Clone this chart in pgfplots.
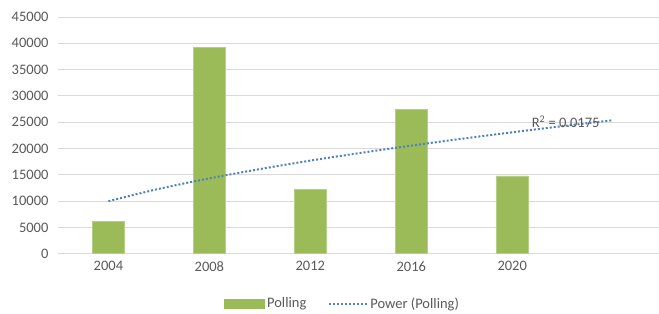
\documentclass[border=0pt]{standalone}
\usepackage{fontspec}
\setmainfont{Carlito}
\usepackage{pgfplots}
\pgfplotsset{compat=1.18}
\definecolor{barg}{HTML}{9BBB59}
\definecolor{bargl}{HTML}{B5CF84}
\definecolor{trend}{HTML}{4F81BD}
\definecolor{txt}{HTML}{595959}
\definecolor{gridc}{HTML}{D9D9D9}
\begin{document}
\begin{tikzpicture}[font=\fontsize{14.5pt}{17pt}\selectfont]
\begin{axis}[
  scale only axis,
  width=601pt, height=237pt,
  xmin=-0.5, xmax=5.45,
  ymin=0, ymax=45000,
  ytick={0,5000,...,45000},
  xtick={0,1,2,3,4},
  xticklabels={2004,2008,2012,2016,2020},
  axis line style={draw=none},
  major tick length=0pt,
  ymajorgrids,
  major grid style={draw=gridc, line width=0.9pt},
  tick label style={text=txt},
  /pgf/number format/assume math mode=true,
  scaled y ticks=false,
  yticklabel style={/pgf/number format/1000 sep={}, xshift=-6pt},
  xticklabel style={yshift=-4pt},
  legend style={at={(axis description cs:0.474,-0.21)}, anchor=center, draw=none, legend columns=2, text=txt, /tikz/every even column/.append style={column sep=20pt}},
  clip=false,
]
\addplot[ybar, bar width=32pt, fill=barg, draw=bargl, line width=0.8pt,
  legend image code/.code={\fill[barg] (0pt,-4.5pt) rectangle (40pt,4.5pt);}]
  coordinates {(0,6100) (1,39200) (2,12300) (3,27500) (4,14800)};
\addlegendentry{Polling}
\addplot[trend, line width=2pt, dotted, smooth,
  legend image code/.code={\draw[trend, line width=2pt, dotted] (0pt,0pt) -- (38pt,0pt);}]
  coordinates {(0,10000) (0.5,12350) (1,14340) (1.5,16100) (2,17710) (2.5,19180) (3,20560) (3.5,21860) (4,23090) (4.5,24270) (5,25390)};
\addlegendentry{Power (Polling)}
\node[text=txt, anchor=center] at (axis cs:4.53,25060) {R\textsuperscript{2} = 0.0175};
\end{axis}
\useasboundingbox (current axis.south west) ++(-58pt,-60pt) rectangle ++(659pt,314pt);
\end{tikzpicture}
\end{document}
